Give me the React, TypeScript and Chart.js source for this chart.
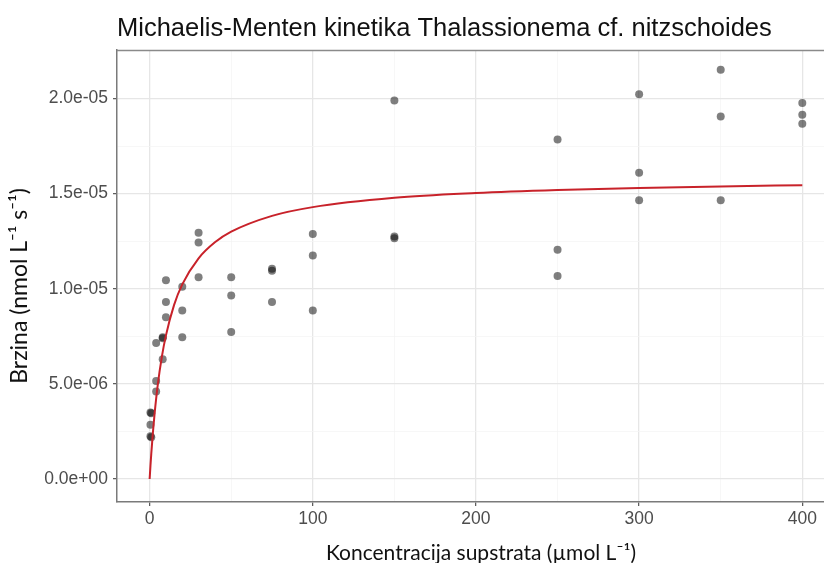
import React, { useEffect, useRef } from 'react';
import { Chart, registerables } from 'chart.js';

Chart.register(...registerables);

const TITLE = 'Michaelis-Menten kinetika Thalassionema cf. nitzschoides';
const X_TITLE = 'Koncentracija supstrata (µmol L⁻¹)';
const Y_TITLE = 'Brzina (nmol L⁻¹ s⁻¹)';

// Observed points
const pointX = [
  0.5, 0.5, 0.5, 1, 1,
  4, 4, 4, 8, 8, 8,
  10, 10, 10, 20, 20, 20,
  30, 30, 30, 50, 50, 50,
  75, 75, 75, 100, 100, 100,
  150, 150, 150, 250, 250, 250,
  300, 300, 300, 350, 350, 350,
  400, 400, 400,
];
const pointY = [
  3.5e-6, 2.85e-6, 2.25e-6, 3.45e-6, 2.2e-6,
  7.15e-6, 5.15e-6, 4.6e-6, 7.45e-6, 7.4e-6, 6.3e-6,
  1.045e-5, 9.3e-6, 8.5e-6, 1.01e-5, 8.85e-6, 7.45e-6,
  1.295e-5, 1.243e-5, 1.06e-5, 1.06e-5, 9.65e-6, 7.73e-6,
  1.105e-5, 1.095e-5, 9.3e-6, 1.288e-5, 1.175e-5, 8.85e-6,
  1.99e-5, 1.275e-5, 1.265e-5, 1.785e-5, 1.205e-5, 1.067e-5,
  2.022e-5, 1.61e-5, 1.465e-5, 2.151e-5, 1.905e-5, 1.465e-5,
  1.977e-5, 1.915e-5, 1.867e-5,
];

// Fitted curve
const curveX = [0, 0.5, 1, 2, 3, 5, 7.5, 10, 15, 20, 30, 40, 50, 75, 100, 150, 200, 250, 300, 350, 400];
const curveY = [
  0, 6.9e-7, 1.32e-6, 2.44e-6, 3.4e-6, 4.96e-6, 6.43e-6, 7.55e-6, 9.15e-6, 1.023e-5,
  1.16e-5, 1.244e-5, 1.3e-5, 1.383e-5, 1.429e-5, 1.478e-5, 1.503e-5, 1.519e-5, 1.53e-5,
  1.538e-5, 1.544e-5,
];

// Ticks
const xMajor = [0, 100, 200, 300, 400];
const xTickLabels = ['0', '100', '200', '300', '400'];
const xMinor = [50, 150, 250, 350];
const yMajor = [0, 5e-6, 1e-5, 1.5e-5, 2e-5];
const yTickLabels = ['0.0e+00', '5.0e-06', '1.0e-05', '1.5e-05', '2.0e-05'];
const yMinor = [2.5e-6, 7.5e-6, 1.25e-5, 1.75e-5, 2.25e-5];

const near = (m: number, v: number) => Math.abs(m - v) < 1e-12 || Math.abs(m - v) < 1e-9 * Math.abs(m);
const isMajor = (arr: number[], v: number) => arr.some((m) => near(m, v));
const labelFor = (arr: number[], labels: string[], v: number) => {
  const i = arr.findIndex((m) => near(m, v));
  return i >= 0 ? labels[i] : '';
};

const AXIS_TITLE_FONT = 'Lato, "Open Sans", sans-serif';

const decorations = {
  id: 'decorations',
  beforeDatasetsDraw(chart: any) {
    const { ctx, chartArea } = chart;
    ctx.save();
    ctx.strokeStyle = '#8a8a8a';
    ctx.lineWidth = 1.5;
    ctx.beginPath();
    ctx.moveTo(chartArea.left, chartArea.top + 0.5);
    ctx.lineTo(chartArea.right, chartArea.top + 0.5);
    ctx.stroke();
    ctx.restore();
  },
  afterDraw(chart: any) {
    const { ctx } = chart;
    ctx.save();
    ctx.fillStyle = '#111';
    ctx.textAlign = 'center';
    ctx.textBaseline = 'middle';
    ctx.font = `21px ${AXIS_TITLE_FONT}`;
    ctx.fillText(X_TITLE, 481, 553);
    ctx.translate(20, 286);
    ctx.rotate(-Math.PI / 2);
    ctx.font = `23px ${AXIS_TITLE_FONT}`;
    ctx.fillText(Y_TITLE, 0, 0);
    ctx.restore();
  },
};

export default function App() {
  const ref = useRef<HTMLCanvasElement>(null);

  useEffect(() => {
    if (!ref.current) return;
    const tickFont = { family: '"Liberation Sans", Arial, sans-serif', size: 17.5 };
    const chart = new Chart(ref.current, {
      type: 'scatter',
      data: {
        datasets: [
          {
            label: 'points',
            data: pointX.map((x, i) => ({ x, y: pointY[i] })),
            backgroundColor: 'rgba(0,0,0,0.5)',
            borderColor: 'rgba(0,0,0,0)',
            borderWidth: 0,
            pointRadius: 4,
            order: 2,
          },
          {
            label: 'fit',
            data: curveX.map((x, i) => ({ x, y: curveY[i] })),
            showLine: true,
            borderColor: '#c8222a',
            borderWidth: 2,
            pointRadius: 0,
            cubicInterpolationMode: 'monotone',
            fill: false,
            order: 1,
          },
        ],
      },
      options: {
        responsive: false,
        animation: false,
        devicePixelRatio: 1,
        layout: { padding: 0, autoPadding: false },
        plugins: {
          legend: { display: false },
          tooltip: { enabled: false },
          title: {
            display: true,
            text: TITLE,
            align: 'start',
            fullSize: false,
            color: '#111',
            font: { family: '"Liberation Sans", Arial, sans-serif', size: 25.5, weight: 'normal' },
            padding: { top: 14, bottom: 5.4 },
          },
        },
        scales: {
          x: {
            type: 'linear',
            min: -20,
            max: 413.3,
            afterFit: (s: any) => {
              s.height = 61;
              s.paddingLeft = 0;
              s.paddingRight = 0;
            },
            afterBuildTicks: (s: any) => {
              s.ticks = [...xMajor, ...xMinor].sort((a, b) => a - b).map((v) => ({ value: v }));
            },
            ticks: {
              autoSkip: false,
              maxRotation: 0,
              padding: 3,
              color: '#4d4d4d',
              font: tickFont,
              callback: (v: any) => labelFor(xMajor, xTickLabels, Number(v)),
            },
            grid: {
              color: (c: any) => (isMajor(xMajor, c.tick?.value) ? '#e6e6e6' : '#f3f3f3'),
              lineWidth: (c: any) => (isMajor(xMajor, c.tick?.value) ? 1.3 : 0.7),
              tickColor: (c: any) => (isMajor(xMajor, c.tick?.value) ? '#555' : 'rgba(0,0,0,0)'),
              tickLength: 4,
              tickWidth: 1.2,
            },
            border: { display: true, color: '#7a7a7a', width: 1.5 },
            title: { display: false },
          },
          y: {
            type: 'linear',
            min: -1.21e-6,
            max: 2.255e-5,
            afterFit: (s: any) => {
              s.width = 117;
              s.paddingTop = 0;
              s.paddingBottom = 0;
            },
            afterBuildTicks: (s: any) => {
              s.ticks = [...yMajor, ...yMinor].sort((a, b) => a - b).map((v) => ({ value: v }));
            },
            ticks: {
              autoSkip: false,
              padding: 5,
              color: '#4d4d4d',
              font: tickFont,
              callback: (v: any) => labelFor(yMajor, yTickLabels, Number(v)),
            },
            grid: {
              color: (c: any) => (isMajor(yMajor, c.tick?.value) ? '#e6e6e6' : '#f3f3f3'),
              lineWidth: (c: any) => (isMajor(yMajor, c.tick?.value) ? 1.3 : 0.7),
              tickColor: (c: any) => (isMajor(yMajor, c.tick?.value) ? '#555' : 'rgba(0,0,0,0)'),
              tickLength: 4,
              tickWidth: 1.2,
            },
            border: { display: true, color: '#7a7a7a', width: 1.5 },
            title: { display: false },
          },
        },
      },
      plugins: [decorations],
    } as any);
    return () => chart.destroy();
  }, []);

  return (
    <div style={{ position: 'absolute', left: 0, top: 0, width: 824, height: 563, background: '#fff' }}>
      <canvas ref={ref} width={824} height={563} />
    </div>
  );
}
